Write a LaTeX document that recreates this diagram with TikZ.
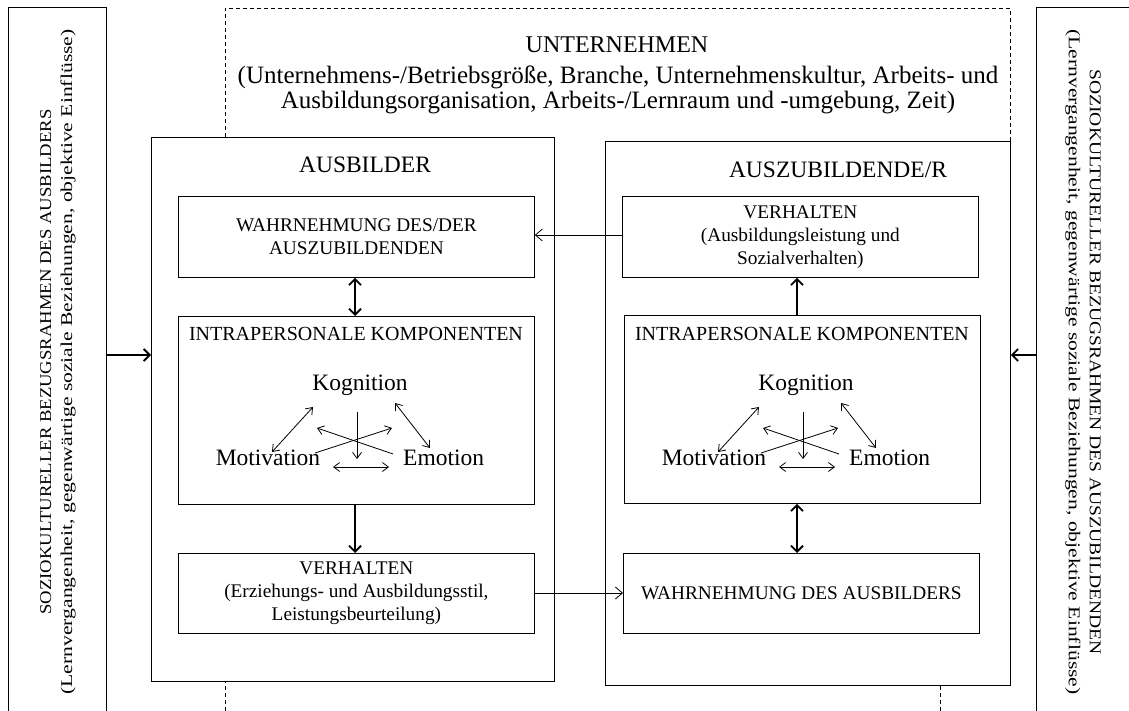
\documentclass[tikz,border=0pt]{standalone}
\usepackage{fontspec}
\setmainfont{Liberation Serif}
\usepackage{graphicx}
\usetikzlibrary{arrows.meta}

\begin{document}
\begin{tikzpicture}[x=1pt,y=-1pt,
  frame/.style={draw, line width=0.8pt, fill=white, inner sep=0pt, anchor=north west},
  boxtext/.style={frame, align=center, font=\fontsize{19.3}{23}\selectfont},
  title/.style={inner sep=0pt, font=\fontsize{23.5}{26}\selectfont},
  headline/.style={inner sep=0pt, font=\fontsize{24}{26}\selectfont},
  subtitle/.style={inner sep=0pt, align=center, font=\fontsize{20}{23}\selectfont},
  firmtext/.style={inner sep=0pt, align=center, font=\fontsize{25}{25}\selectfont},
  factor/.style={inner sep=0pt, font=\fontsize{23.5}{26}\selectfont},
  sidetext/.style={inner sep=0pt, align=center, font=\fontsize{16.5}{21}\selectfont},
  flow/.style={line width=0.8pt, -{Straight Barb[length=7pt,width=12pt]}},
  strong/.style={line width=1.8pt, -{Straight Barb[length=6pt,width=12pt]}},
  strongboth/.style={line width=1.8pt, {Straight Barb[length=6pt,width=12pt]}-{Straight Barb[length=6pt,width=12pt]}},
  inner/.style={line width=0.8pt, -{Straight Barb[length=6pt,width=9pt]}},
  innerboth/.style={line width=0.8pt, {Straight Barb[length=6pt,width=9pt]}-{Straight Barb[length=6pt,width=9pt]}},
  company/.style={line width=0.7pt, dash pattern=on 4pt off 3pt}
]
\useasboundingbox (0,0) rectangle (1129,711);

% company frame (dashed), partly covered by the two person boxes
\draw[company] (225,711) -- (225,8) -- (1010,8) -- (1010,141);
\draw[company] (940,686) -- (940,711);

\node[headline] (firm) at (617,45) {UNTERNEHMEN};
\node[firmtext] (firmtxt) at (618,90) {(Unternehmens-/Betriebsgröße, Branche, Unternehmenskultur, Arbeits- und\\
Ausbildungsorganisation, Arbeits-/Lernraum und -umgebung, Zeit)};

% sociocultural frames at the sides
\node[frame, minimum width=98, minimum height=730] (lbox) at (8,7) {};
\node[frame, minimum width=130, minimum height=730] (rbox) at (1036,7) {};
\node[sidetext, rotate=90] (ltxt) at (58,362) {%
  \resizebox{505pt}{\height}{SOZIOKULTURELLER BEZUGSRAHMEN DES AUSBILDERS}\\
  \resizebox{665pt}{\height}{(Lernvergangenheit, gegenwärtige soziale Beziehungen, objektive Einflüsse)}};
\node[sidetext, rotate=-90] (rtxt) at (1083,362) {%
  \resizebox{585pt}{\height}{SOZIOKULTURELLER BEZUGSRAHMEN DES AUSZUBILDENDEN}\\
  \resizebox{665pt}{\height}{(Lernvergangenheit, gegenwärtige soziale Beziehungen, objektive Einflüsse)}};

% person boxes
\node[frame, minimum width=403, minimum height=544] (ausb) at (151,137) {};
\node[frame, minimum width=405, minimum height=544] (azb) at (605,141) {};
\node[title] (ausbt) at (365,165) {AUSBILDER};
\node[title] (azbt) at (838,170) {AUSZUBILDENDE/R};

% trainer side
\node[boxtext, minimum width=356, minimum height=81] (w1) at (178,196) {WAHRNEHMUNG DES/DER\\AUSZUBILDENDEN};
\node[frame, minimum width=356, minimum height=188] (i1) at (178,316) {};
\node[boxtext, minimum width=356, minimum height=80] (v1) at (178,553) {VERHALTEN\\(Erziehungs- und Ausbildungsstil,\\Leistungsbeurteilung)};

% trainee side
\node[boxtext, minimum width=356, minimum height=81] (v2) at (622,196) {VERHALTEN\\(Ausbildungsleistung und\\Sozialverhalten)};
\node[frame, minimum width=356, minimum height=188] (i2) at (624,315) {};
\node[boxtext, minimum width=356, minimum height=80] (w2) at (623,553) {WAHRNEHMUNG DES AUSBILDERS};

% intrapersonal components: cognition, motivation, emotion
\foreach \p/\dx in {l/0, r/446} {
  \begin{scope}[xshift=\dx]
    \node[subtitle] (\p ttl) at (356,334) {INTRAPERSONALE KOMPONENTEN};
    \node[factor] (\p kog) at (360,385) {Kognition};
    \node[factor] (\p mot) at (268,458) {Motivation};
    \node[factor, anchor=west] (\p emo) at (403,458) {Emotion};
    \draw[innerboth] (272,452) -- (313,407);
    \draw[innerboth] (395,403) -- (430,448);
    \draw[inner] (357,412) -- (357,459);
    \draw[inner] (315,453) -- (392,428);
    \draw[inner] (393,454) -- (317,428);
    \draw[innerboth] (333,467) -- (389,467);
  \end{scope}
}

% connections
\draw[strong] (lbox.east |- 0,355) -- (ausb.west |- 0,355);
\draw[strong] (rbox.west |- 0,355) -- (azb.east |- 0,355);
\draw[flow] (v2.west |- 0,235) -- (w1.east |- 0,235);
\draw[flow] (v1.east |- 0,593) -- (w2.west |- 0,593);
\draw[strongboth] (w1.south -| 355,0) -- (i1.north -| 355,0);
\draw[strong] (i1.south -| 355,0) -- (v1.north -| 355,0);
\draw[strong] (i2.north -| 797,0) -- (v2.south -| 797,0);
\draw[strongboth] (i2.south -| 797,0) -- (w2.north -| 797,0);
\end{tikzpicture}
\end{document}
